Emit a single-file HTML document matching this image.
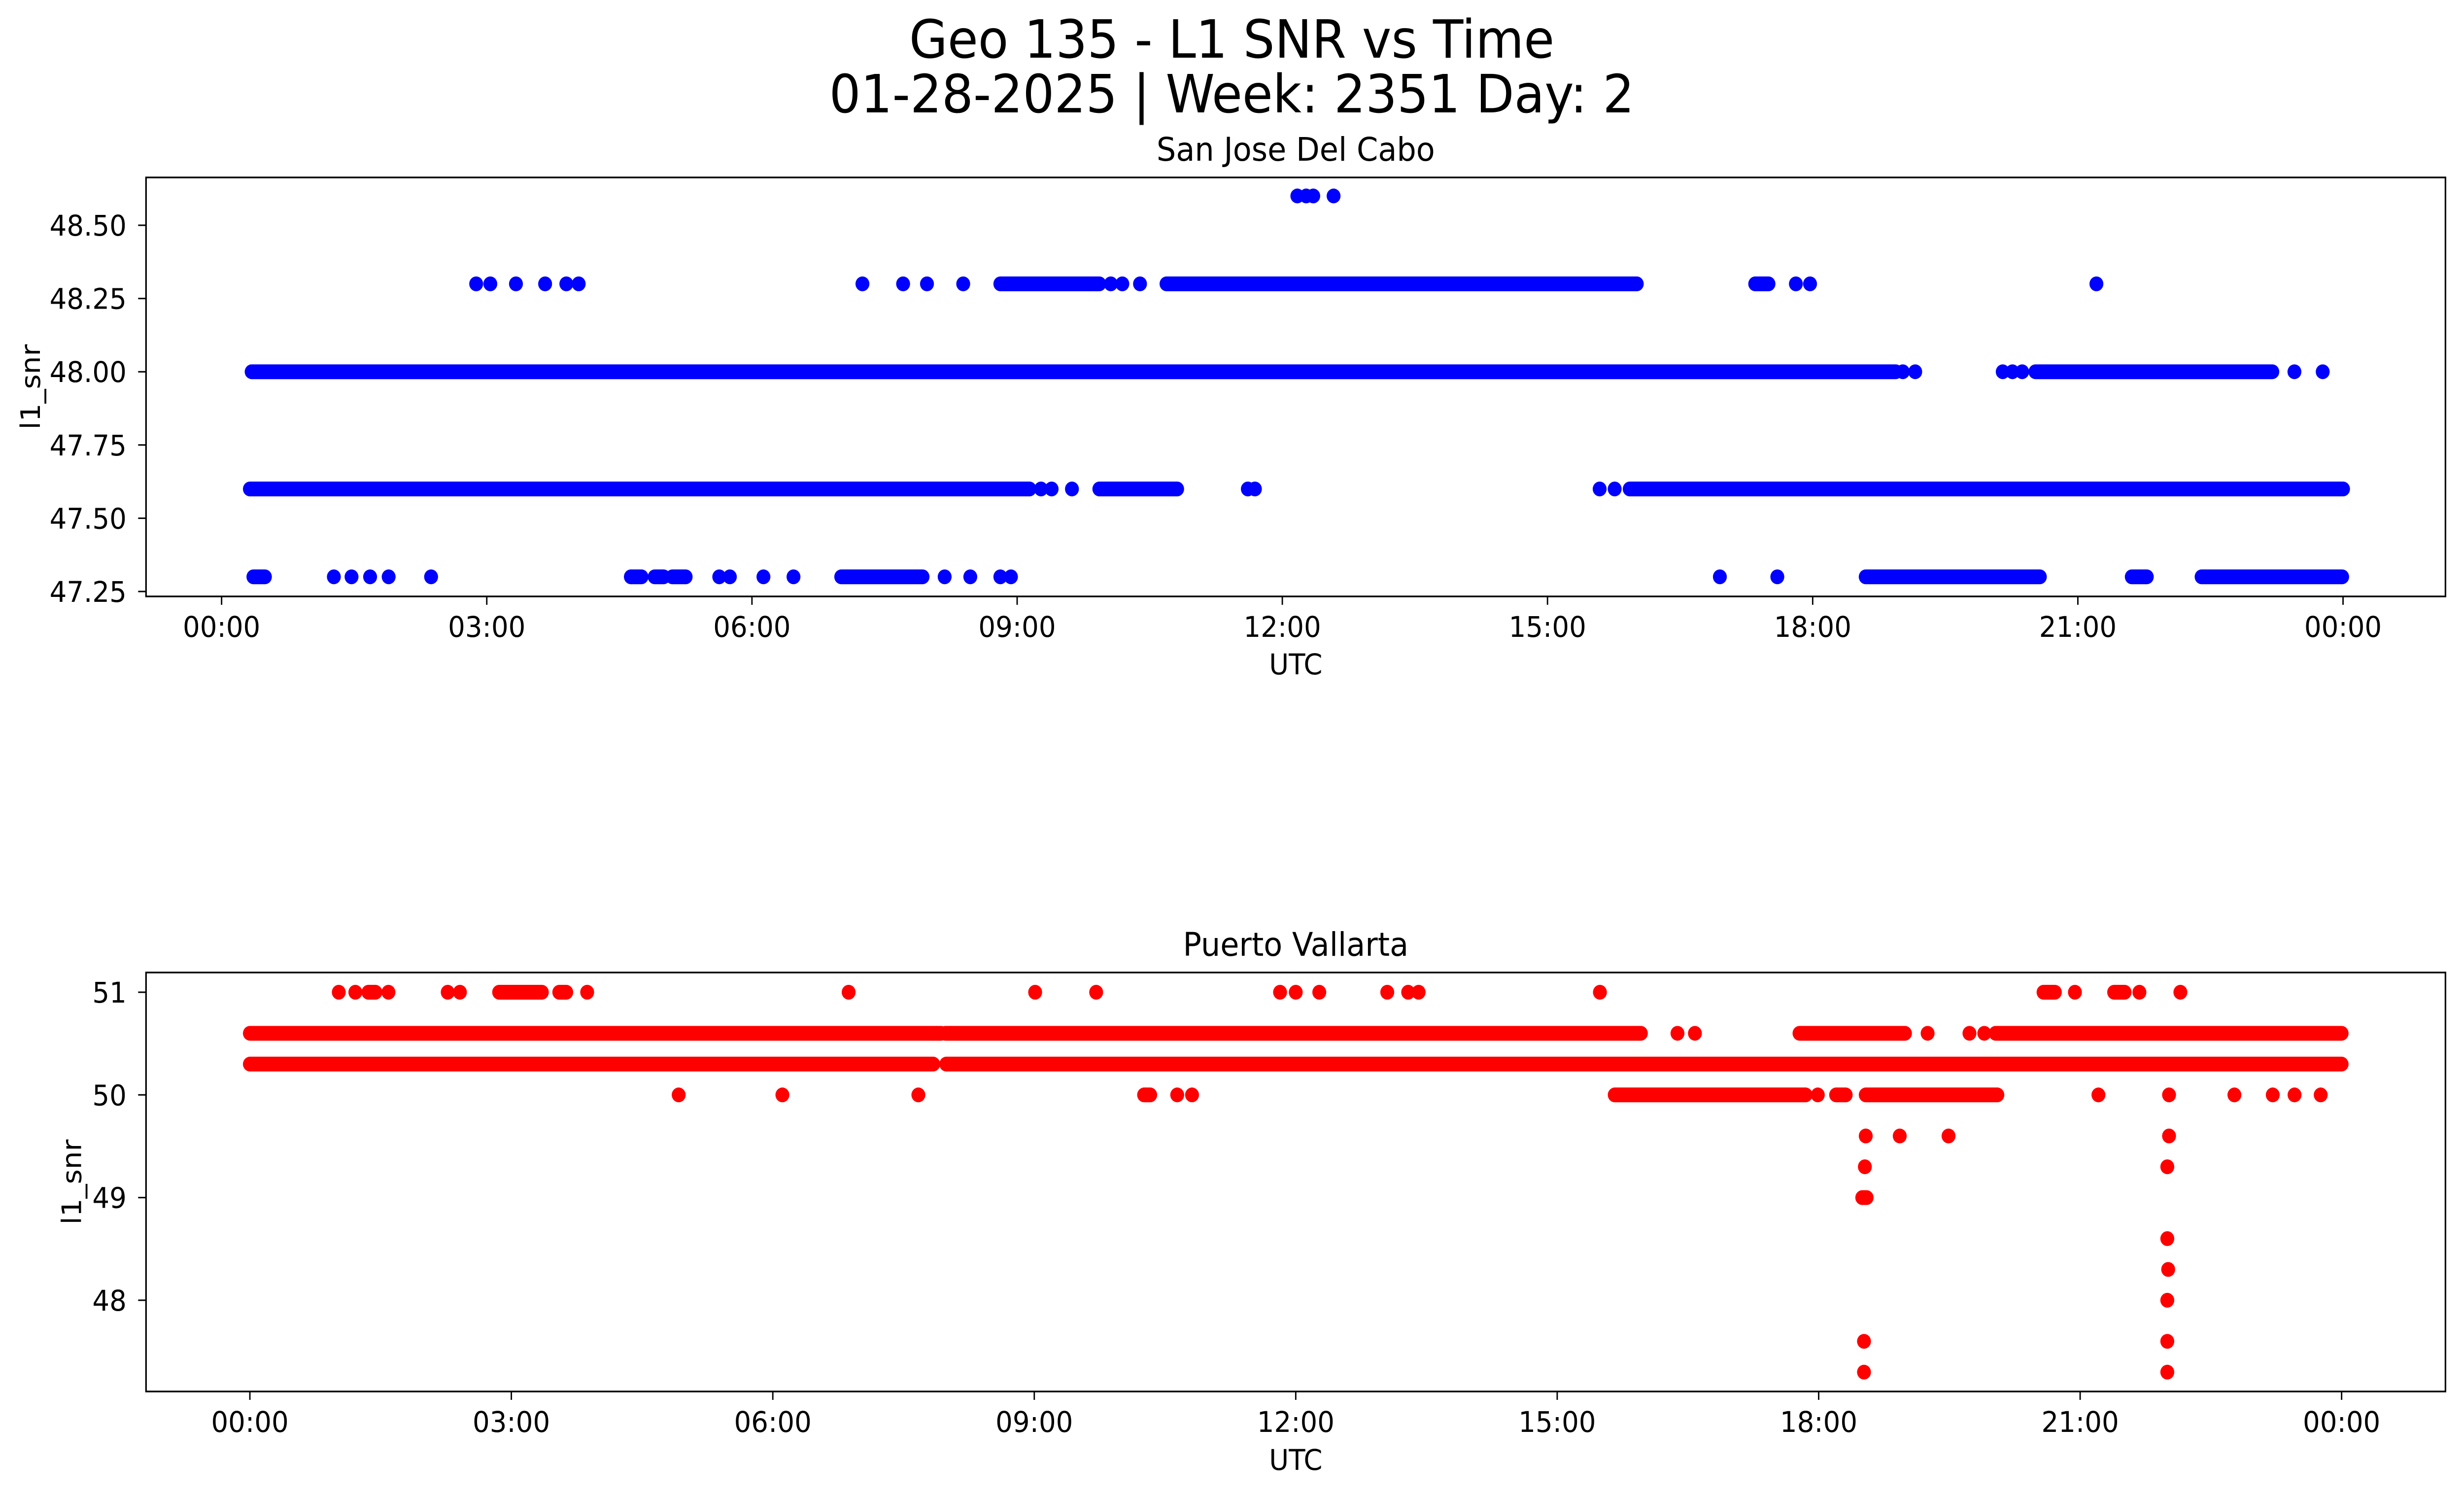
<!DOCTYPE html>
<html><head><meta charset="utf-8"><style>
html,body{margin:0;padding:0;background:#fff;overflow:hidden;width:100%;height:100%;}
svg{display:block;width:100vw;height:100vh;font-family:"DejaVu Sans","Liberation Sans",sans-serif;}
</style></head><body>
<svg id="fig" viewBox="0 0 5315 3033" preserveAspectRatio="none" xmlns="http://www.w3.org/2000/svg">
<rect width="5315" height="3033" fill="#fff"/>
<text x="2657" y="117" font-size="107" text-anchor="middle">Geo 135 - L1 SNR vs Time</text>
<text x="2657" y="228" font-size="107" text-anchor="middle">01-28-2025 | Week: 2351 Day: 2</text>
<g id="top"></g>
<g id="bot"></g>
</svg>
<script>
// Data: runs of consecutive samples [startHour, endHour] per SNR level; single samples have start==end
const topLevels = [48.6, 48.3, 48.0, 47.6, 47.3];
const topRuns486 = [[12.17,12.17],[12.27,12.27],[12.35,12.35],[12.58,12.58]];
const topRuns483 = [[2.88,2.88],[3.04,3.04],[3.33,3.33],[3.66,3.66],[3.9,3.9],[4.04,4.04],[7.25,7.25],[7.71,7.71],[7.98,7.98],[8.39,8.39],[8.81,9.93],[10.06,10.06],[10.19,10.19],[10.39,10.39],[10.69,16.01],[17.35,17.5],[17.81,17.81],[17.97,17.97],[21.21,21.21]];
const topRuns480 = [[0.34,18.94],[19.02,19.02],[19.16,19.16],[20.15,20.15],[20.26,20.26],[20.37,20.37],[20.52,23.2],[23.45,23.45],[23.77,23.77]];
const topRuns476 = [[0.32,9.14],[9.27,9.27],[9.39,9.39],[9.62,9.62],[9.93,10.81],[11.61,11.61],[11.69,11.69],[15.59,15.59],[15.76,15.76],[15.93,24.0]];
const topRuns473 = [[0.36,0.49],[1.27,1.27],[1.47,1.47],[1.68,1.68],[1.89,1.89],[2.37,2.37],[4.63,4.75],[4.9,5.0],[5.1,5.25],[5.63,5.63],[5.75,5.75],[6.13,6.13],[6.47,6.47],[7.01,7.93],[8.18,8.18],[8.47,8.47],[8.81,8.81],[8.93,8.93],[16.95,16.95],[17.6,17.6],[18.6,20.57],[21.61,21.78],[22.4,23.99]];

const botLevels = [51.0, 50.6, 50.3, 50.0, 49.6, 49.3, 49.0, 48.6, 48.3, 48.0, 47.6, 47.3];
const botRuns510 = [[1.02,1.02],[1.21,1.21],[1.36,1.44],[1.59,1.59],[2.27,2.27],[2.41,2.41],[2.86,3.35],[3.55,3.63],[3.87,3.87],[6.87,6.87],[9.01,9.01],[9.71,9.71],[11.82,11.82],[12.0,12.0],[12.27,12.27],[13.05,13.05],[13.29,13.29],[13.41,13.41],[15.49,15.49],[20.58,20.71],[20.94,20.94],[21.39,21.51],[21.68,21.68],[22.15,22.15]];
const botRuns506 = [[0.0,7.93],[7.98,15.96],[16.38,16.38],[16.58,16.58],[17.78,18.99],[19.25,19.25],[19.73,19.73],[19.9,19.9],[20.03,24.0]];
const botRuns503 = [[0.0,7.84],[7.99,24.0]];
const botRuns500 = [[4.92,4.92],[6.11,6.11],[7.67,7.67],[10.26,10.33],[10.64,10.64],[10.81,10.81],[15.66,17.85],[17.99,17.99],[18.2,18.31],[18.54,20.05],[21.21,21.21],[22.02,22.02],[22.77,22.77],[23.21,23.21],[23.46,23.46],[23.76,23.76]];
const botRuns496 = [[18.54,18.54],[18.93,18.93],[19.49,19.49],[22.02,22.02]];
const botRuns493 = [[18.53,18.53],[22.0,22.0]];
const botRuns490 = [[18.5,18.55]];
const botRuns486 = [[22.0,22.0]];
const botRuns483 = [[22.01,22.01]];
const botRuns480 = [[22.0,22.0]];
const botRuns476 = [[18.52,18.52],[22.0,22.0]];
const botRuns473 = [[18.52,18.52],[22.0,22.0]];

const xTickHours = [0,3,6,9,12,15,18,21,24];
const xTickLabels = ["00:00","03:00","06:00","09:00","12:00","15:00","18:00","21:00","00:00"];
const topYTicks = [47.25,47.5,47.75,48.0,48.25,48.5];
const topYTickLabels = ["47.25","47.50","47.75","48.00","48.25","48.50"];
const botYTicks = [48,49,50,51];
const botYTickLabels = ["48","49","50","51"];

const NS = "http://www.w3.org/2000/svg";
function mk(tag, attrs, parent){const e=document.createElementNS(NS,tag);for(const k in attrs)e.setAttribute(k,attrs[k]);parent.appendChild(e);return e;}

function drawChart(g, cfg){
  const L=315,R=5275,T=cfg.top,B=cfg.bottom;
  const xs = h => cfg.x0 + h * cfg.pxPerHour;
  const ys = v => cfg.yRef + (cfg.vRef - v) * cfg.pxPerUnit;
  const t = mk('text',{x:(L+R)/2,y:T-34,'font-size':66,'text-anchor':'middle'},g);
  
  
  t.textContent = cfg.title;
  const dg = mk('g',{},g);
  
  
  cfg.series.forEach(([val, runs])=>{
    runs.forEach(r=>{
      const ln = mk('line',{x1:xs(r[0]),x2:xs(r[1]),y1:ys(val),y2:ys(val),stroke:cfg.color,'stroke-width':30,'stroke-linecap':'round'},dg);
      
      
    });
  });
  const fr = mk('rect',{x:L,y:T,width:R-L,height:B-T,fill:'none',stroke:'#000','stroke-width':3.4},g);
  
  
  xTickHours.forEach((h,i)=>{
    const x=xs(h);
    const tk = mk('line',{x1:x,x2:x,y1:B,y2:B+17,stroke:'#000','stroke-width':3},g);
    
    
    const tl = mk('text',{x:x,y:B+cfg.xLabelDy,'font-size':58,'text-anchor':'middle'},g);
    
    
    tl.textContent = xTickLabels[i];
  });
  const xt = mk('text',{x:(L+R)/2,y:B+cfg.xTitleDy,'font-size':58,'text-anchor':'middle'},g);
  
  
  xt.textContent='UTC';
  cfg.yTicks.forEach((v,i)=>{
    const y=ys(v);
    const tk = mk('line',{x1:L-17,x2:L,y1:y,y2:y,stroke:'#000','stroke-width':3},g);
    
    
    const tl = mk('text',{x:273,y:y+21,'font-size':58,'text-anchor':'end'},g);
    
    
    tl.textContent = cfg.yLabels[i];
  });
  const yt = mk('text',{x:cfg.yTitleX,y:(T+B)/2,'font-size':58,'text-anchor':'middle',transform:`rotate(-90 ${cfg.yTitleX} ${(T+B)/2})`},g);
  
  
  yt.textContent='l1_snr';
}

drawChart(document.getElementById('top'),{
  top:360,bottom:1210,x0:478,pxPerHour:190.67,yRef:457,vRef:48.5,pxPerUnit:594.4,
  title:'San Jose Del Cabo',color:'#0000ff',xLabelDy:82,xTitleDy:158,yTitleX:86,
  yTicks:topYTicks,yLabels:topYTickLabels,
  series:[[topLevels[0],topRuns486],[topLevels[1],topRuns483],[topLevels[2],topRuns480],[topLevels[3],topRuns476],[topLevels[4],topRuns473]]
});
drawChart(document.getElementById('bot'),{
  top:1973,bottom:2823,x0:539,pxPerHour:188,yRef:2013,vRef:51,pxPerUnit:208.3,
  title:'Puerto Vallarta',color:'#ff0000',xLabelDy:82,xTitleDy:159,yTitleX:175,
  yTicks:botYTicks,yLabels:botYTickLabels,
  series:[[botLevels[0],botRuns510],[botLevels[1],botRuns506],[botLevels[2],botRuns503],[botLevels[3],botRuns500],[botLevels[4],botRuns496],[botLevels[5],botRuns493],[botLevels[6],botRuns490],[botLevels[7],botRuns486],[botLevels[8],botRuns483],[botLevels[9],botRuns480],[botLevels[10],botRuns476],[botLevels[11],botRuns473]]
});
</script>
</body></html>
